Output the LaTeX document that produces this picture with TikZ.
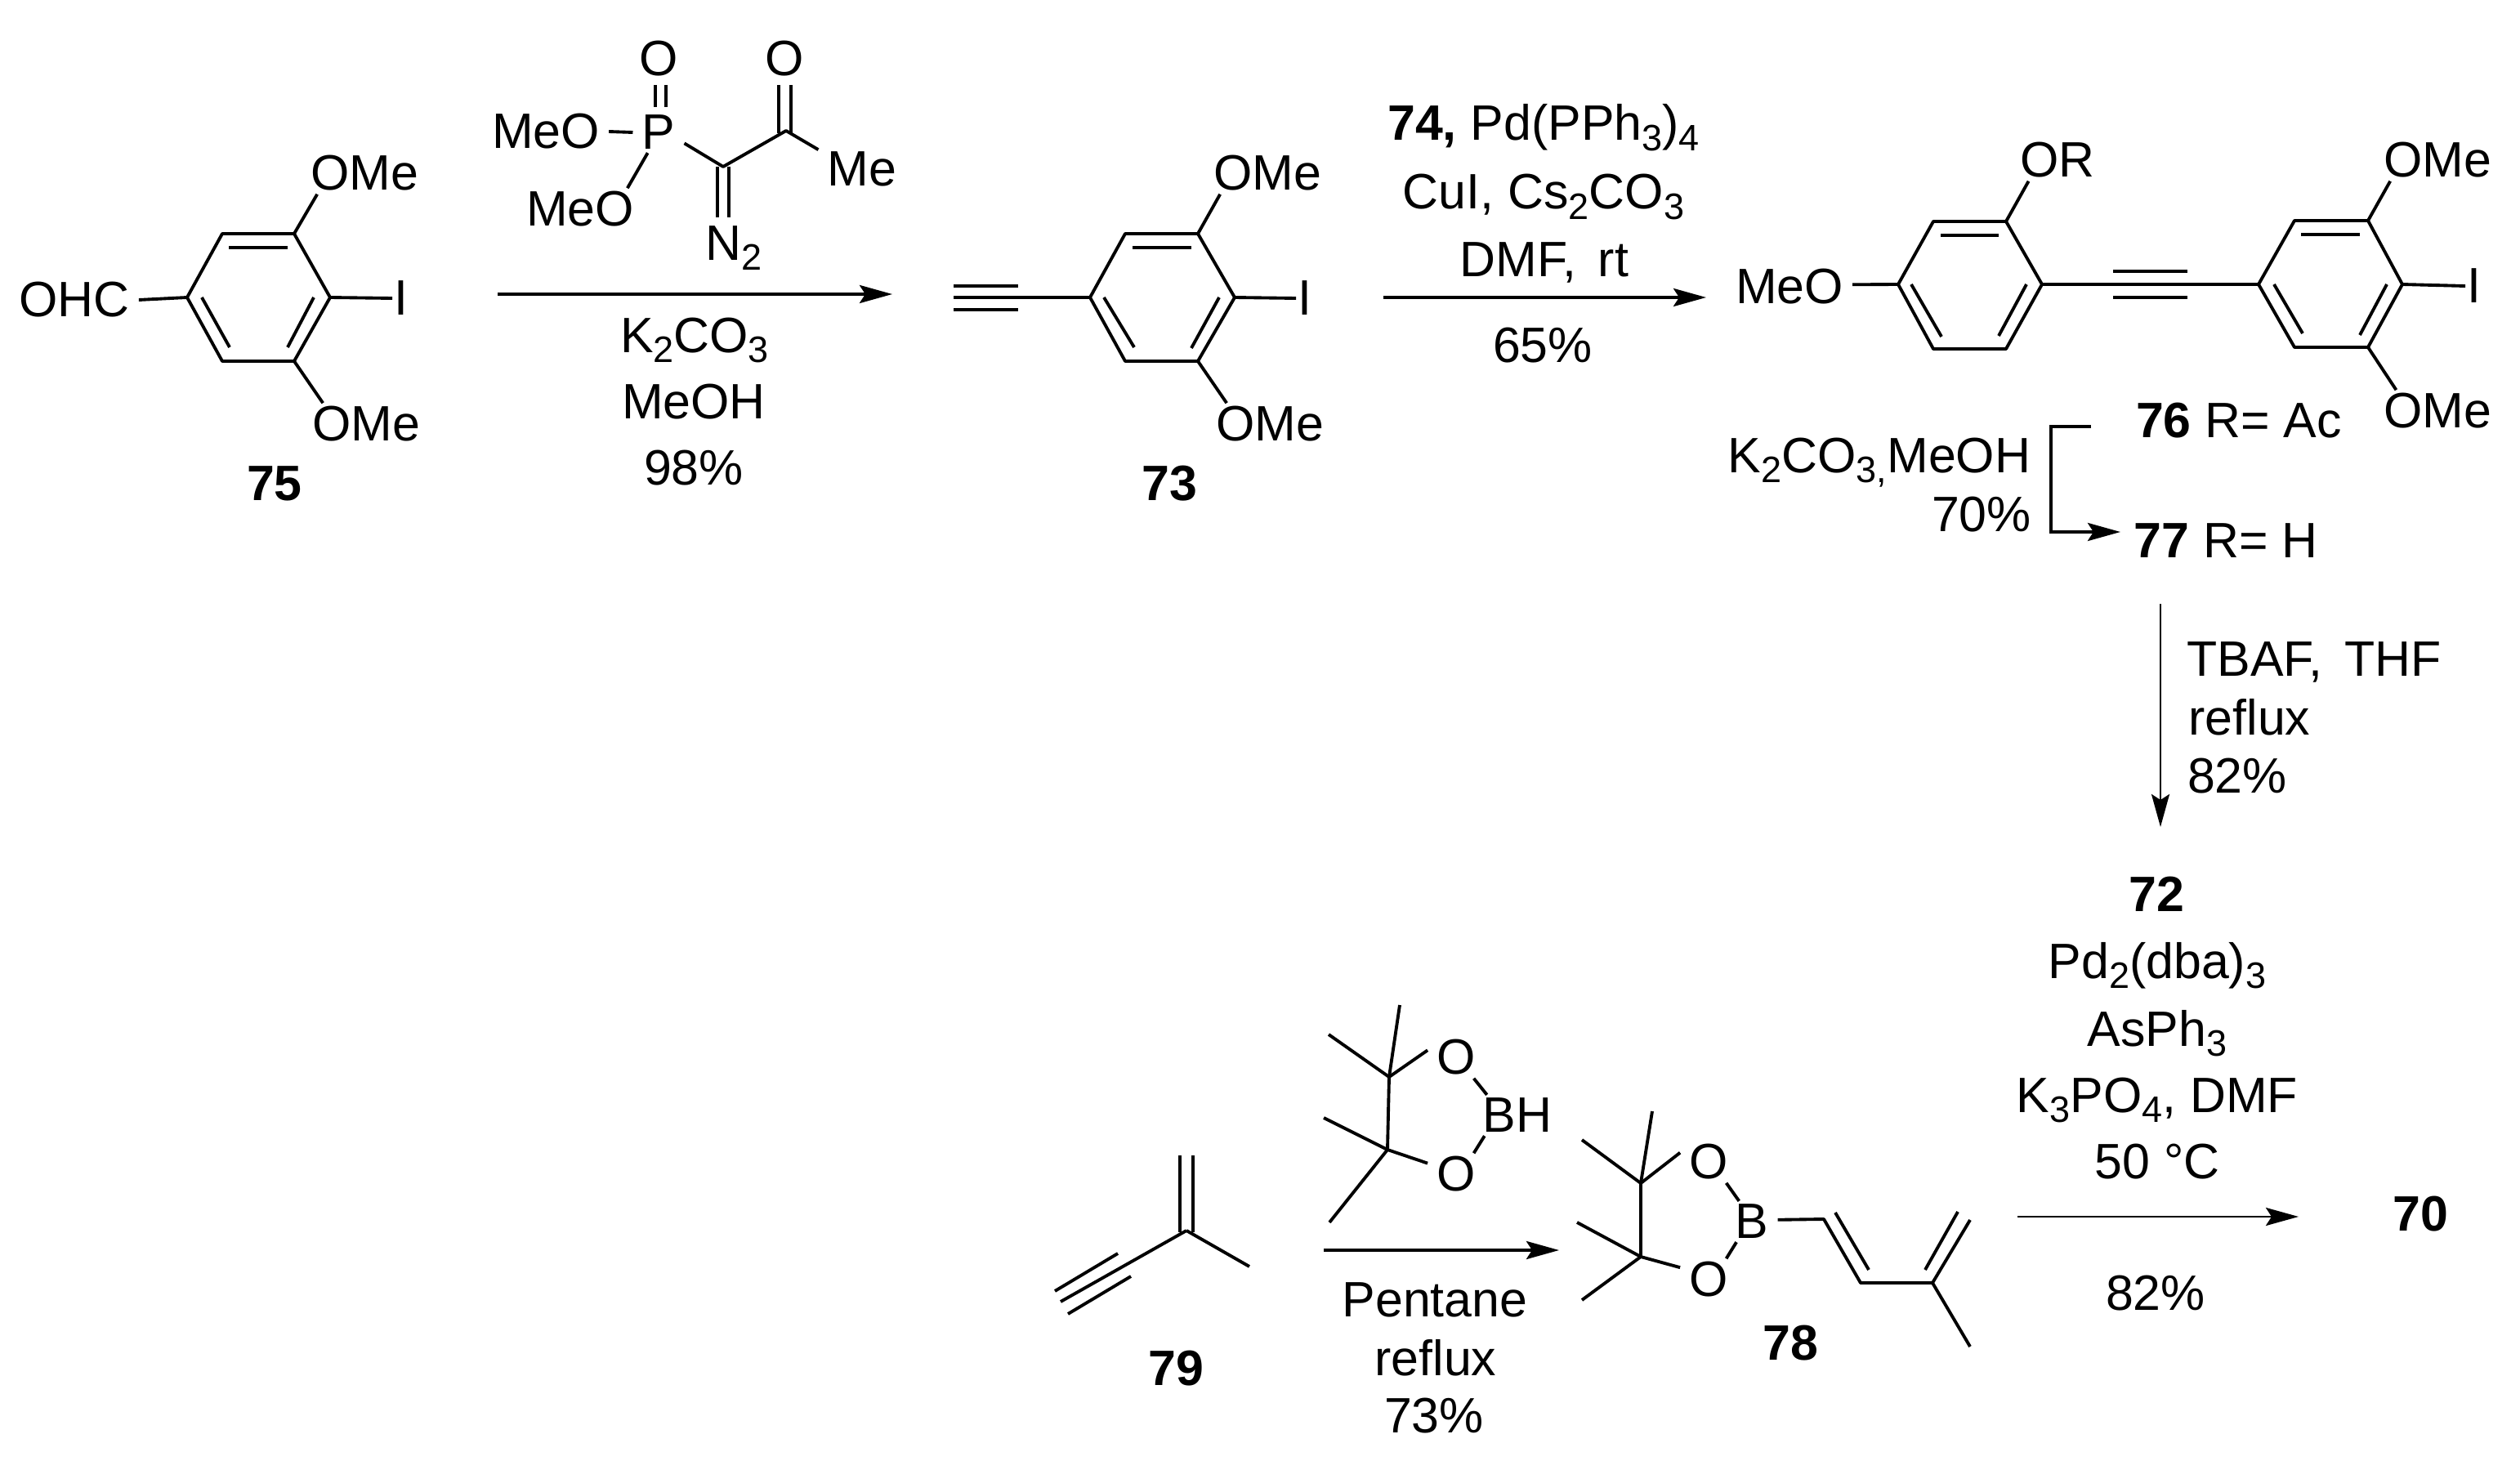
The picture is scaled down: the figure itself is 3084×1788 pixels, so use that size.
\documentclass[tikz,border=0pt]{standalone}
\usepackage{fontspec}
\setmainfont{Liberation Sans}
\usepackage{tikz}
\usetikzlibrary{arrows.meta}
\newcommand{\chem}[1]{\raisebox{-3.6pt}{\fontsize{12.8pt}{13pt}\selectfont #1}}
\tikzset{
  bond/.style={line width=1.1pt, line join=round},
  rxn/.style={line width=1.1pt, line join=miter, -{Stealth[length=4mm, width=2.2mm, inset=0.7mm]}},
  rxnthin/.style={rxn, line width=0.8pt},
  atom/.style={font=\fontsize{17.3pt}{20pt}\selectfont, inner xsep=3pt, inner ysep=1pt},
  iod/.style={atom, inner xsep=0.5pt},
  lab/.style={atom, anchor=base},
}

\begin{document}
\begin{tikzpicture}[x=0.01cm, y=-0.01cm]
\useasboundingbox (0,0) rectangle (3084,1788);

\draw (91,367) node[atom] (ohc) {OHC};
\draw (446,212) node[atom] (ome1) {OMe};
\draw (448,519) node[atom] (ome2) {OMe};
\draw (491,365) node[iod] (iod1) {I};
\draw (336,612) node[lab] (n75) {\textbf{75}};

\draw[bond] (229,364) coordinate (a1) -- (272,286) coordinate (a2) -- (360,286) coordinate (a3) -- (404,364) coordinate (a4) -- (360,442) coordinate (a5) -- (272,442) coordinate (a6) -- cycle;
\draw[bond] (280,303) coordinate (a7) -- (352,303) coordinate (a8);
\draw[bond] (384,364) coordinate (a9) -- (352,425) coordinate (a10);
\draw[bond] (247,364) coordinate (a11) -- (281,425) coordinate (a12);
\draw[bond] (ohc.east) -- (a1);
\draw[bond] (a3) -- (ome1.204);
\draw[bond] (a5) -- (ome2.154);
\draw[bond] (a4) -- (iod1.west);

\draw (806,72) node[atom] (ox1) {O};
\draw (806,162) node[atom] (phos) {P};
\draw (668,161) node[atom] (meo1) {MeO};
\draw (710,256) node[atom] (meo2) {MeO};
\draw (960,72) node[atom] (ox2) {O};
\draw (1055,207) node[atom] (me1) {Me};
\draw (898,318) node[lab] (diazo) {N\chem{2}};

\draw[bond] (802,104) coordinate (p1) -- (802,131) coordinate (p2);
\draw[bond] (815,104) coordinate (p3) -- (815,131) coordinate (p4);
\draw[bond] (meo1.east) -- (phos.west);
\draw[bond] (phos.242) -- (meo2.24);
\draw[bond] (885,204) coordinate (c1);
\draw[bond] (962,160) coordinate (c2);
\draw[bond] (phos.337) -- (c1) -- (c2) -- (me1.156);
\draw[bond] (953,104) coordinate (c3) -- (953,163) coordinate (c4);
\draw[bond] (968,104) coordinate (c5) -- (968,163) coordinate (c6);
\draw[bond] (878,204) coordinate (c7) -- (878,266) coordinate (c8);
\draw[bond] (892,204) coordinate (c9) -- (892,266) coordinate (c10);

\draw[rxn] (609,360) coordinate (r1a) -- (1092,360) coordinate (r1b);
\draw (850,431) node[lab] (k2co3a) {K\chem{2}CO\chem{3}};
\draw (849,512) node[lab] (meoha) {MeOH};
\draw (849,593) node[lab] (y98) {98\%};

\draw (1551,212) node[atom] (ome3) {OMe};
\draw (1554,519) node[atom] (ome4) {OMe};
\draw (1597,365) node[iod] (iod2) {I};
\draw (1431,612) node[lab] (n73) {\textbf{73}};

\draw[bond] (1334,364) coordinate (b1) -- (1377,286) coordinate (b2) -- (1466,286) coordinate (b3) -- (1511,364) coordinate (b4) -- (1466,442) coordinate (b5) -- (1377,442) coordinate (b6) -- cycle;
\draw[bond] (1386,303) coordinate (b7) -- (1458,303) coordinate (b8);
\draw[bond] (1492,364) coordinate (b9) -- (1458,426) coordinate (b10);
\draw[bond] (1351,364) coordinate (b11) -- (1388,425) coordinate (b12);
\draw[bond] (1167,364) coordinate (b13) -- (b1);
\draw[bond] (1167,350) coordinate (b14) -- (1246,350) coordinate (b15);
\draw[bond] (1167,379) coordinate (b16) -- (1246,379) coordinate (b17);
\draw[bond] (b3) -- (ome3.204);
\draw[bond] (b5) -- (ome4.154);
\draw[bond] (b4) -- (iod2.west);

\draw[rxn] (1693,364) coordinate (r2a) -- (2088,364) coordinate (r2b);
\draw (1889,172) node[lab] (pdcat) {\textbf{74,} Pd(PPh\chem{3})\chem{4}};
\draw (1889,256) node[lab] (cui) {CuI, Cs\chem{2}CO\chem{3}};
\draw (1890,338) node[lab] (dmfa) {DMF, \,rt};
\draw (1888,443) node[lab] (y65) {65\%};

\draw (2190,351) node[atom] (meo3) {MeO};
\draw (2518,196) node[atom] (orgp) {OR};
\draw (2983,196) node[atom] (ome5) {OMe};
\draw (2983,503) node[atom] (ome6) {OMe};
\draw (3028,350) node[iod] (iod3) {I};

\draw[bond] (2323,348) coordinate (d1) -- (2366,271) coordinate (d2) -- (2455,271) coordinate (d3) -- (2499,348) coordinate (d4) -- (2455,427) coordinate (d5) -- (2366,427) coordinate (d6) -- cycle;
\draw[bond] (2375,288) coordinate (d7) -- (2446,288) coordinate (d8);
\draw[bond] (2480,348) coordinate (d9) -- (2446,411) coordinate (d10);
\draw[bond] (2339,348) coordinate (d11) -- (2376,412) coordinate (d12);
\draw[bond] (meo3.2) -- (d1);
\draw[bond] (d3) -- (orgp.216);

\draw[bond] (2764,348) coordinate (e1) -- (2808,270) coordinate (e2) -- (2898,270) coordinate (e3) -- (2940,348) coordinate (e4) -- (2898,425) coordinate (e5) -- (2808,425) coordinate (e6) -- cycle;
\draw[bond] (2816,287) coordinate (e7) -- (2888,287) coordinate (e8);
\draw[bond] (2921,348) coordinate (e9) -- (2888,410) coordinate (e10);
\draw[bond] (2783,348) coordinate (e11) -- (2818,408) coordinate (e12);
\draw[bond] (e3) -- (ome5.204);
\draw[bond] (e5) -- (ome6.153);
\draw[bond] (e4) -- (iod3.west);

\draw[bond] (d4) -- (e1);
\draw[bond] (2586,332) coordinate (y1) -- (2677,332) coordinate (y2);
\draw[bond] (2586,364) coordinate (y3) -- (2677,364) coordinate (y4);

\draw (2740,535) node[lab] (n76) {\textbf{76} R= Ac};
\draw (2724,682) node[lab] (n77) {\textbf{77} R= H};
\draw (2300,578) node[lab] (k2co3b) {K\chem{2}CO\chem{3,}MeOH};
\draw (2425,650) node[lab] (y70) {70\%};
\draw[rxn] (2559,522) coordinate (s1) -- (2510,522) coordinate (s2) -- (2510,651) coordinate (s3) -- (2595,651) coordinate (s4);

\draw[rxnthin] (2644,739) coordinate (r3a) -- (2644,1012) coordinate (r3b);
\draw (2832,827) node[lab] (tbaf) {TBAF, \,THF};
\draw (2753,899) node[lab] (rfx1) {reflux};
\draw (2738,970) node[lab] (y82a) {82\%};

\draw (2639,1115) node[lab] (n72) {\textbf{72}};
\draw (2640,1197) node[lab] (pddba) {Pd\chem{2}(dba)\chem{3}};
\draw (2640,1280) node[lab] (asph) {AsPh\chem{3}};
\draw (2640,1361) node[lab] (k3po4) {K\chem{3}PO\chem{4}, DMF};
\draw (2640,1442) node[lab] (temp) {50 °C};
\draw[rxnthin] (2469,1489) coordinate (r4a) -- (2813,1489) coordinate (r4b);
\draw (2638,1603) node[lab] (y82b) {82\%};
\draw (2962,1506) node[lab] (n70) {\textbf{70}};

\draw[bond] (1452,1506) coordinate (f1) -- (1529,1550) coordinate (f2);
\draw[bond] (f1) -- (1298,1593) coordinate (f3);
\draw[bond] (1444,1414) coordinate (f4) -- (1444,1508) coordinate (f5);
\draw[bond] (1460,1414) coordinate (f6) -- (1460,1508) coordinate (f7);
\draw[bond] (1368,1534) coordinate (f8) -- (1291,1580) coordinate (f9);
\draw[bond] (1384,1562) coordinate (f10) -- (1307,1608) coordinate (f11);
\draw (1439,1695) node[lab] (n79) {\textbf{79}};

\draw (1782,1294) node[atom] (ox3) {O};
\draw (1782,1437) node[atom] (ox4) {O};
\draw (1857,1365) node[atom] (bh) {BH};
\draw[bond] (1700,1318) coordinate (g1) -- (1698,1407) coordinate (g2);
\draw[bond] (g1) -- (1713,1230) coordinate (g3);
\draw[bond] (g1) -- (1626,1266) coordinate (g4);
\draw[bond] (g2) -- (1620,1368) coordinate (g5);
\draw[bond] (g2) -- (1627,1496) coordinate (g6);
\draw[bond] (g1) -- (ox3.166);
\draw[bond] (g2) -- (ox4.159);
\draw[bond] (ox3.310) -- (bh.146);
\draw[bond] (ox4.50) -- (bh.212);

\draw[rxn] (1620,1530) coordinate (r5a) -- (1908,1530) coordinate (r5b);
\draw (1756,1611) node[lab] (pent) {Pentane};
\draw (1757,1683) node[lab] (rfx2) {reflux};
\draw (1755,1753) node[lab] (y73) {73\%};

\draw (2091,1422) node[atom] (ox5) {O};
\draw (2091,1566) node[atom] (ox6) {O};
\draw (2144,1495) node[atom] (bor) {B};
\draw (2191,1664) node[lab] (n78) {\textbf{78}};
\draw[bond] (2008,1448) coordinate (h1) -- (2008,1538) coordinate (h2);
\draw[bond] (h1) -- (2022,1360) coordinate (h3);
\draw[bond] (h1) -- (1936,1395) coordinate (h4);
\draw[bond] (h2) -- (1930,1496) coordinate (h5);
\draw[bond] (h2) -- (1936,1591) coordinate (h6);
\draw[bond] (h1) -- (ox5.162);
\draw[bond] (h2) -- (ox6.157);
\draw[bond] (ox5.310) -- (bor.122);
\draw[bond] (ox6.50) -- (bor.233);
\draw[bond] (bor.4) -- (2232,1492) coordinate (h7) -- (2277,1570) coordinate (h8) -- (2365,1570) coordinate (h9) -- (2411,1493) coordinate (h10);
\draw[bond] (h9) -- (2411,1648) coordinate (h11);
\draw[bond] (2246,1484) coordinate (h12) -- (2287,1554) coordinate (h13);
\draw[bond] (2356,1554) coordinate (h14) -- (2396,1483) coordinate (h15);

\end{tikzpicture}
\end{document}
